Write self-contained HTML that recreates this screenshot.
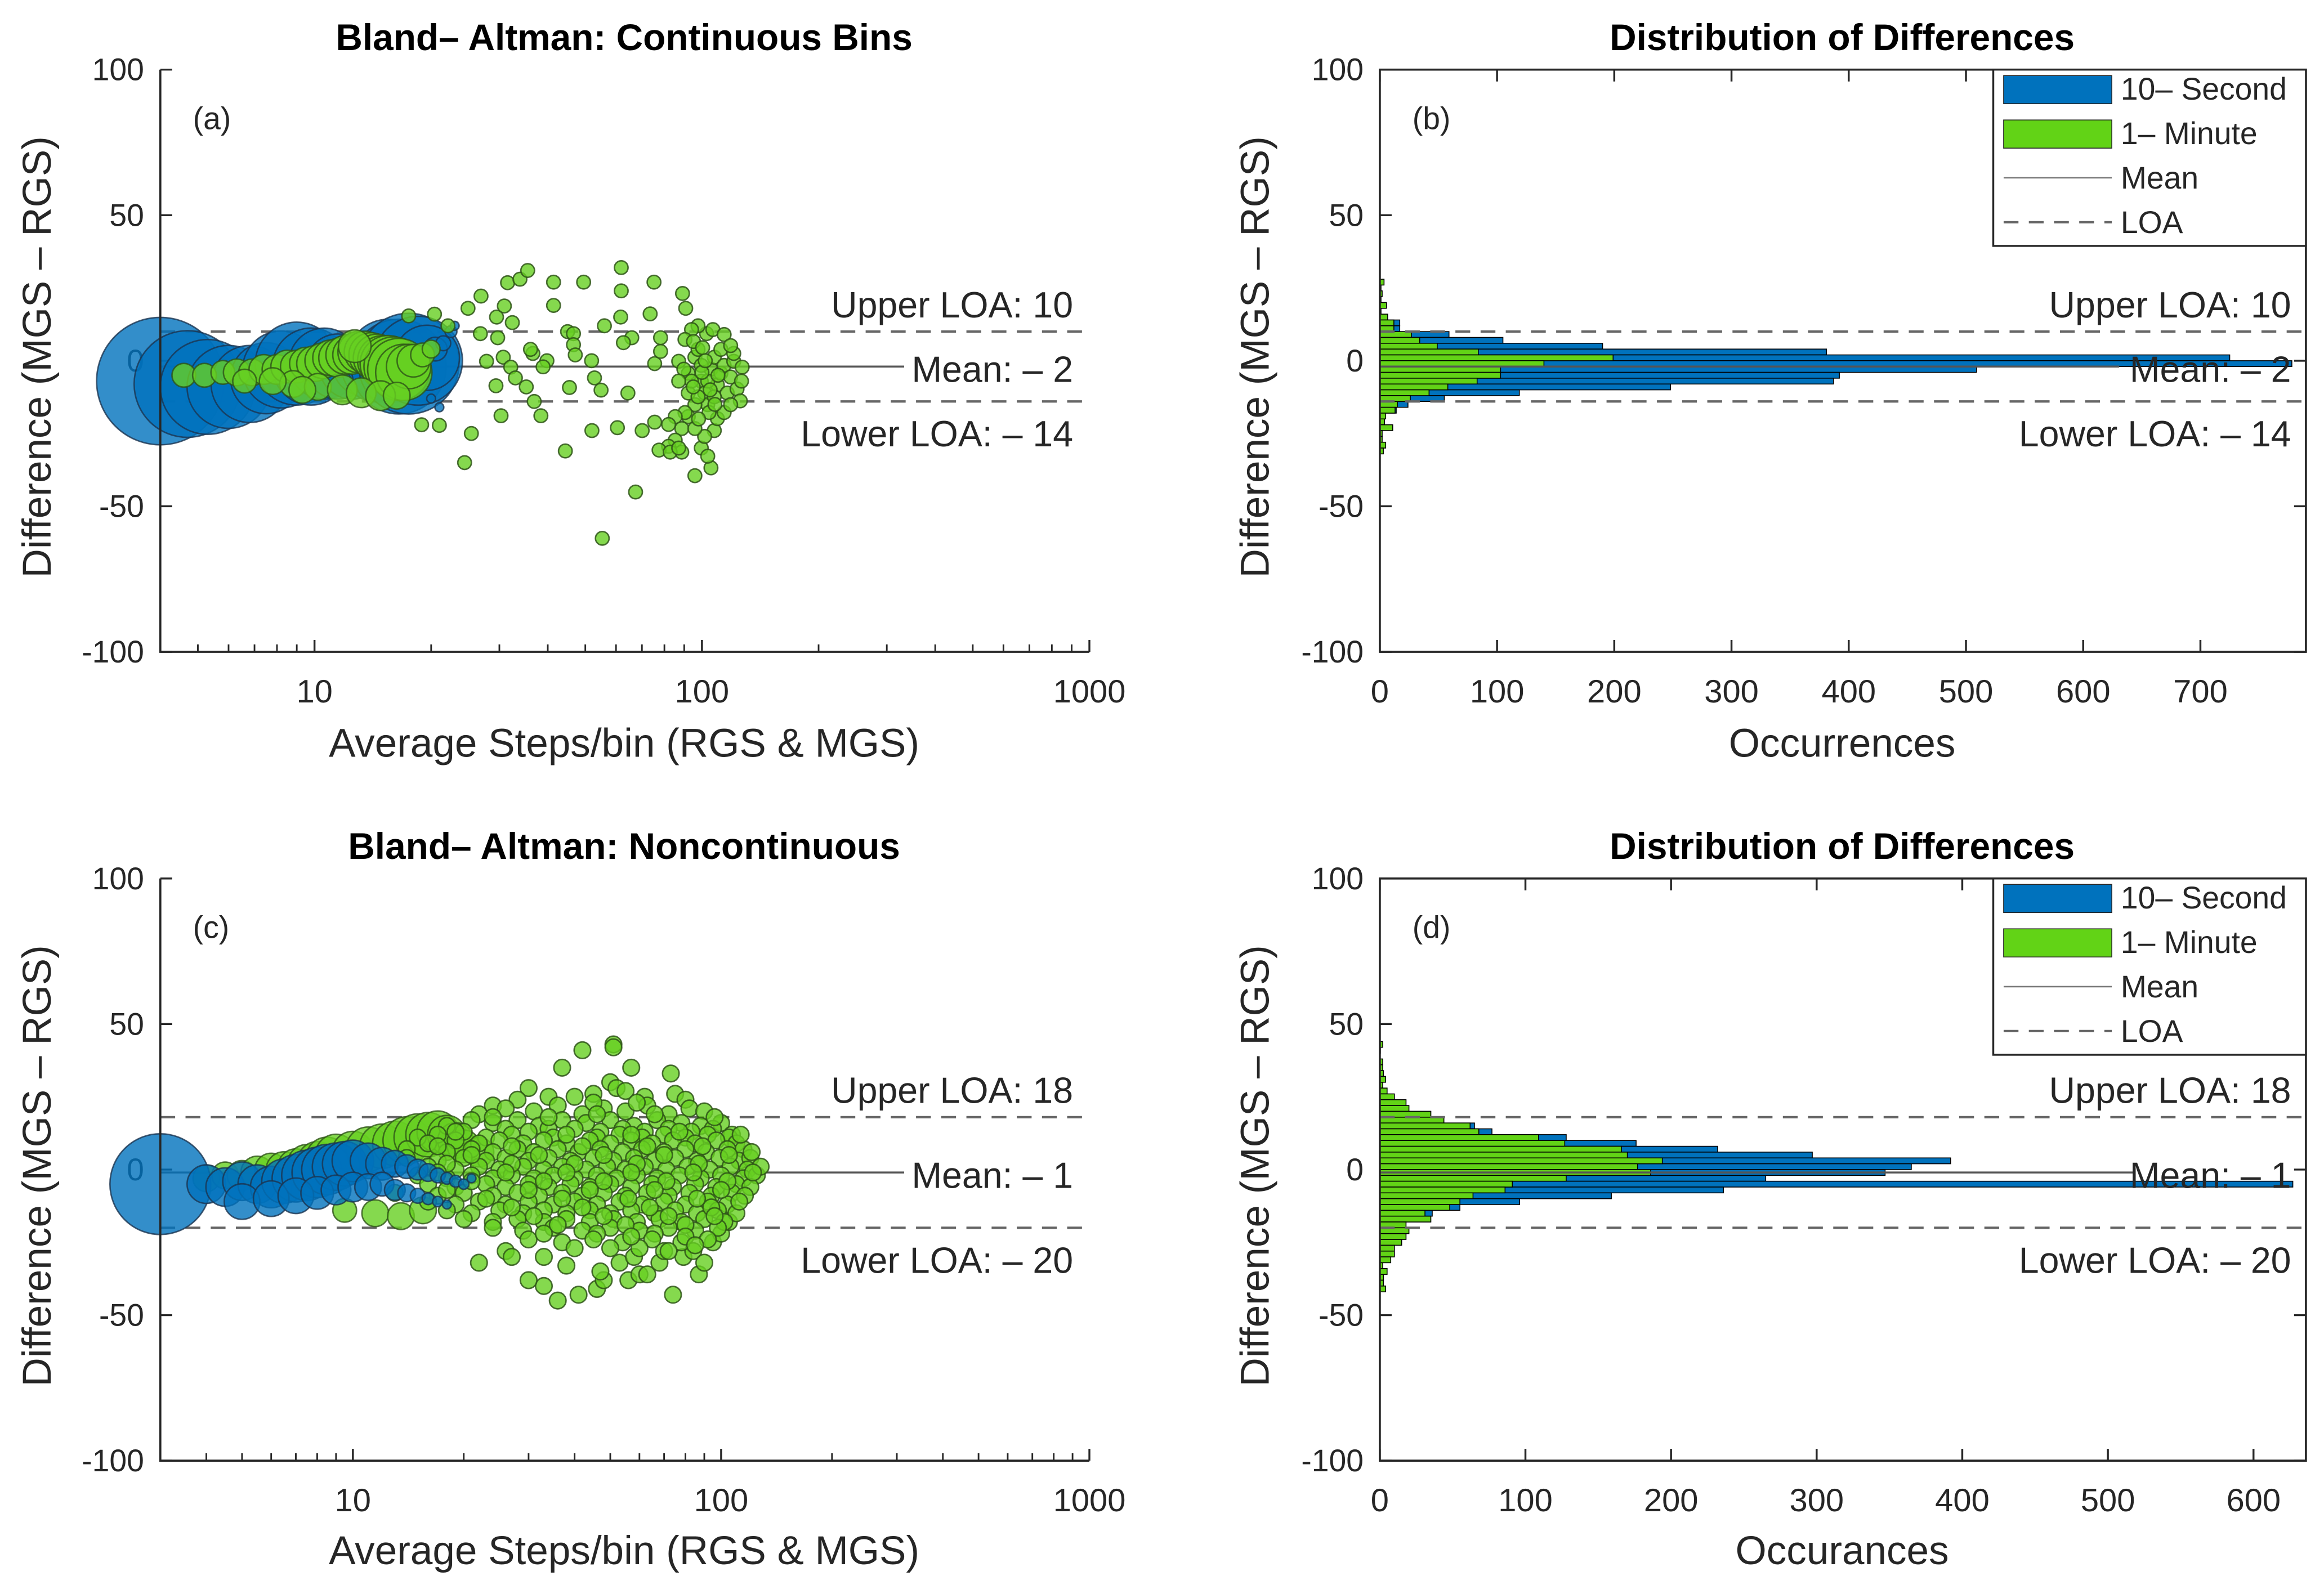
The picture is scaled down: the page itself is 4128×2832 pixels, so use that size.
<!DOCTYPE html>
<html><head><meta charset="utf-8">
<style>html,body{margin:0;padding:0;background:#fff;}svg{display:block}</style>
</head><body>
<svg id="fig" width="4128" height="2832" viewBox="0 0 1568 1076" xmlns="http://www.w3.org/2000/svg" font-family="'Liberation Sans', Arial, sans-serif" fill="#262626">
<rect x="0" y="0" width="1568" height="1076" fill="#fff"/>
<text x="421" y="25" font-size="25" font-weight="bold" text-anchor="middle" dominant-baseline="central" fill="#000">Bland– Altman: Continuous Bins</text>
<text x="1243" y="25" font-size="25" font-weight="bold" text-anchor="middle" dominant-baseline="central" fill="#000">Distribution of Differences</text>
<text x="421" y="571" font-size="25" font-weight="bold" text-anchor="middle" dominant-baseline="central" fill="#000">Bland– Altman: Noncontinuous</text>
<text x="1243" y="571" font-size="25" font-weight="bold" text-anchor="middle" dominant-baseline="central" fill="#000">Distribution of Differences</text>
<text x="421" y="502" font-size="27" text-anchor="middle" dominant-baseline="central">Average Steps/bin (RGS &amp; MGS)</text>
<text x="1243" y="502" font-size="27" text-anchor="middle" dominant-baseline="central">Occurrences</text>
<text x="421" y="1047" font-size="27" text-anchor="middle" dominant-baseline="central">Average Steps/bin (RGS &amp; MGS)</text>
<text x="1243" y="1047" font-size="27" text-anchor="middle" dominant-baseline="central">Occurances</text>
<text transform="translate(25,241) rotate(-90)" font-size="27" text-anchor="middle" dominant-baseline="central">Difference (MGS – RGS)</text>
<text transform="translate(847,241) rotate(-90)" font-size="27" text-anchor="middle" dominant-baseline="central">Difference (MGS – RGS)</text>
<text transform="translate(25,787) rotate(-90)" font-size="27" text-anchor="middle" dominant-baseline="central">Difference (MGS – RGS)</text>
<text transform="translate(847,787) rotate(-90)" font-size="27" text-anchor="middle" dominant-baseline="central">Difference (MGS – RGS)</text>
<g id="ga"></g>
<g id="gb"></g>
<g id="gc"></g>
<g id="gd"></g>
</svg>
<script>
// ---------- data ----------
const yTicks = [100, 50, 0, -50, -100];
const yTickLabels = ['100', '50', '0', '-50', '-100'];
const logMajors = [10, 100, 1000];
const logMajorLabels = ['10', '100', '1000'];
const histTicksB = [0, 100, 200, 300, 400, 500, 600, 700];
const histTicksD = [0, 100, 200, 300, 400, 500, 600];
const meanVals = [-2, -1];
const upperVals = [10, 18];
const lowerVals = [-14, -20];
const panelLetters = ['(a)', '(b)', '(c)', '(d)'];
const legendLabels = ['10– Second', '1– Minute', 'Mean', 'LOA'];

// panel (a) blue bubbles (10-second)
const aBlueX = [4, 4.7, 5.3, 6, 6.8, 7.5, 8.2, 9, 9.8, 10.6, 11.5, 12.5, 13.5, 14.5, 15.5, 16.5, 17.5, 18.5, 19.5, 20.5, 21.5, 22.5, 20, 21, 23];
const aBlueY = [-7, -8, -9, -9, -8, -6, -3, -1, -2, -1, -2, -2, -1, -2, 0, -2, -1, 0, 1, 4, 6, 10, -13, -16, 12];
const aBlueS = [43, 36, 32, 28, 26, 24, 26, 28, 26, 24, 22, 22, 22, 24, 28, 32, 34, 30, 22, 8, 5, 4, 3, 3, 3];
// panel (a) green bubbles (1-minute)
const aGreenX = [4.6, 5.2, 5.8, 6.3, 6.9, 7.4, 8, 8.5, 9, 9.5, 10, 10.5, 11, 11.5, 12, 12.5, 13, 13.5, 14, 14.5, 15, 15.5, 16, 16.5, 17, 17.5, 18, 19, 20, 8.8, 10.2, 11.8, 13.2, 14.8, 16.3, 6.6, 7.8, 9.3, 12.7];
const aGreenY = [-5, -5, -4, -4, -4, -3, -3, -2, -2, -1, -1, 0, 1, 1, 2, 2, 3, 3, 2, 1, 0, -1, -2, -3, -4, -2, 0, 2, 4, -8, -9, -10, -11, -12, -12, -7, -7, -10, 5];
const aGreenS = [8, 8, 8, 9, 9, 10, 10, 11, 11, 11, 12, 12, 12, 13, 13, 13, 14, 14, 15, 16, 17, 19, 20, 21, 19, 15, 11, 8, 6, 9, 9, 10, 10, 10, 9, 8, 9, 9, 11];
// panel (a) scattered green points
const aDots = [[24.9,18],[26.9,22.2],[29.5,15],[30.9,18.8],[31.5,26.8],[33.9,28],[35.5,31],[41.4,27],[41.4,19],[49.5,27],[61.9,32],[61.9,24],[75.2,27],[89.1,23.1],[90.8,18],[73.5,16.1],[61.7,15],[56,12],[45,10],[46.6,9.3],[46.6,5.5],[47.1,2],[51.9,0],[36.6,2.5],[39.8,0],[38.9,-2.1],[36.1,3.9],[32.4,13.1],[29.7,7.9],[27.8,-0.2],[30.7,1.2],[32.1,-2.2],[33,-5.9],[29.4,-8.6],[35.2,-9],[36.9,-14],[30.3,-18.9],[38.4,-18.9],[45.5,-9.2],[52.8,-5.9],[54.9,-10.1],[64.4,-11.1],[75.5,-1],[78.2,3.2],[78.2,7.9],[65.9,7.9],[62.7,6.2],[52,-24],[60.5,-23],[70.1,-24],[75.5,-21.1],[44.4,-31],[25.4,-25],[24.4,-35],[67.4,-45.1],[55.3,-61],[18.9,-22],[21,-22.2],[26.8,9.3],[22.1,12],[20.4,16],[17.5,15.4],
[87.1,-0.2],[92.2,-4.3],[95.9,1.2],[97.7,3.9],[99.6,-7],[101.6,-11.1],[103.5,-15.1],[105.5,-2.9],[107.6,1.2],[109.6,-8.3],[111.9,-4.3],[114.1,-1.6],[116.2,-11.1],[118.6,-5.6],[120.8,-0.2],[123.2,-9.7],[125.6,-13.8],[127,-2.2],[126.5,-7],[95.9,-15.1],[92.2,-19.2],[88.7,-23.3],[85.3,-27.3],[82,-29.4],[77.5,-30.7],[88.7,-31.4],[95.9,-39.5],[99.6,-30],[105.5,-36.8],[103.5,-32.8],[107.6,-24],[109.6,-19.9],[102.8,9.3],[106.7,10.7],[114.1,9],[97.7,12],[94,10.7],[90.4,7.3],[95.1,6.6],[100.4,4.5],[111.9,3.9],[101.6,-26],[95.9,-23.3],[90.4,-17.8],[85.3,-19.2],[82,-21.9],[82.8,-31.4],[87.1,-30],[92.2,-11.1],[97.7,-12.4],[104.3,-17.8],[114.1,-17.8],[118.6,-15.1],[120.8,2.5],[118.6,5.2],[99.6,-1.6],[103.5,-7],[107.6,-12.4],[94,-7],[89.8,-2.9],[87.1,-7],[100,-4],[105,-10],[98,-20],[110,-5],[102,0],[95,-9],[108,-15]];

// panel (c) bubbles
const cGreenX = [4, 4.5, 5, 5.5, 6, 6.5, 7, 7.5, 8, 8.5, 9, 10, 11, 12, 13, 14, 15, 16, 17, 18, 19, 20, 22, 9.5, 11.5, 13.5, 15.5];
const cGreenY = [-3, -2, -2, -1, 0, 0, 1, 2, 3, 4, 5, 6, 7, 8, 9, 10, 11, 12, 13, 12, 10, 8, 6, -14, -15, -16, -14];
const cGreenS = [9, 9, 10, 11, 11, 12, 12, 13, 13, 14, 14, 14, 15, 15, 15, 16, 16, 15, 14, 13, 12, 11, 10, 8, 9, 9, 9];
const cBlueX = [3, 4, 4.5, 5, 5.5, 6, 6.5, 7, 7.5, 8, 8.5, 9, 9.5, 10, 11, 12, 13, 14, 15, 16, 17, 18, 19, 20, 21, 5, 6, 7, 8, 9, 10, 11, 12, 13, 14, 15, 16, 17, 18];
const cBlueY = [-5, -5, -6, -4, -5, -6, -4, -3, -2, -1, 0, 1, 2, 3, 3, 2, 2, 1, 0, -1, -2, -3, -4, -5, -3, -11, -10, -9, -8, -7, -6, -6, -5, -7, -8, -9, -10, -11, -12];
const cBlueS = [34, 13, 13, 13, 13, 14, 15, 16, 17, 17, 17, 16, 15, 14, 12, 11, 9, 8, 7, 6, 5, 4, 4, 3.5, 3, 12, 12, 12, 11, 10, 10, 9, 8, 7, 6, 5, 4, 3.5, 3];
const cDots = [[51,43],[51,42],[42,41],[37,35],[57,35],[73,33],[50,30],[52,28],[55,27],[30,28],[34,25],[40,25],[45,26],[62,25],[75,26],[80,24],[28,24],[24,22],
[36,-45],[41,-43],[33,-40],[30,-38],[46,-41],[48,-38],[56,-38],[60,-36],[63,-36],[74,-43],[87,-36],[22,-32],[26,-28],[27,-30],[33,-30],[38,-33],[53,-32],[58,-30],[68,-32],[70,-28],[79,-30],[84,-28],[90,-32],[95,-25],[100,-22],[105,-18],[47,-35],
[22,19],[26,21],[31,20],[36,22],[42,19],[48,21],[55,20],[63,22],[72,19],[82,21],[90,20],[59,23],[45,23],
[18,15],[21,17],[24,16],[28,17],[32,15],[37,17],[43,16],[50,17],[58,15],[67,17],[78,16],[88,15],[100,16],
[20,13],[26,14],[30,13],[34,14],[40,14],[47,13],[54,14],[62,13],[72,14],[83,13],[95,14],[107,12],
[15,11],[17,12],[23,11],[27,12],[35,11],[46,11],[53,12],[61,11],[70,12],[80,11],[92,12],[105,11],
[16,9],[19,10],[22,9],[25,10],[29,9],[33,10],[38,9],[44,10],[50,9],[57,10],[65,9],[74,10],[85,9],[97,10],[110,9],
[14,7],[18,6],[21,7],[24,6],[28,7],[31,6],[36,7],[41,6],[47,7],[54,6],[61,7],[70,6],[80,7],[91,6],[104,7],[115,7],
[14,4],[17,3],[20,4],[23,3],[26,4],[30,3],[34,4],[39,3],[45,4],[51,3],[58,4],[66,3],[75,4],[86,3],[99,4],[112,3],[120,4],
[16,1],[19,0],[22,1],[25,0],[29,1],[33,0],[37,1],[43,0],[49,1],[55,0],[62,1],[71,0],[81,1],[93,0],[106,1],[118,0],
[15,-2],[18,-3],[21,-2],[24,-3],[27,-2],[31,-3],[35,-2],[40,-3],[46,-2],[52,-3],[59,-2],[67,-3],[77,-2],[88,-3],[100,-2],[115,-3],[125,-2],
[16,-5],[19,-6],[23,-5],[26,-6],[30,-5],[34,-6],[39,-5],[44,-6],[50,-5],[57,-6],[65,-5],[74,-6],[85,-5],[97,-6],[110,-5],[120,-6],
[13,-8],[17,-9],[20,-8],[24,-9],[28,-8],[32,-9],[37,-8],[42,-9],[48,-8],[55,-9],[63,-8],[72,-9],[82,-8],[94,-9],[107,-8],[116,-9],
[16,-11],[19,-12],[22,-11],[26,-12],[30,-11],[35,-12],[40,-11],[46,-12],[53,-11],[61,-12],[70,-11],[80,-12],[92,-11],[104,-12],
[18,-14],[21,-15],[25,-14],[29,-15],[33,-14],[38,-15],[44,-14],[50,-15],[57,-14],[66,-15],[75,-14],[86,-15],[98,-14],[110,-15],
[20,-17],[24,-18],[28,-17],[33,-18],[38,-17],[44,-18],[51,-17],[59,-18],[68,-17],[78,-18],[90,-17],[102,-18],
[24,-20],[29,-21],[35,-20],[42,-21],[50,-20],[60,-21],[72,-20],[85,-21],[98,-20],[46,-22],[66,-22],
[30,-24],[37,-25],[45,-24],[54,-25],[65,-24],[78,-25],[92,-24],[40,-27],[60,-27],[72,-28],
[24,18],[34,18],[46,19],[66,19],[96,18],[19,13],[38,12],[57,12],[77,13],[113,12],[17,8],[27,8],[42,8],[63,8],[89,8],[121,6],[21,5],[32,5],[48,5],[70,5],[105,5],
[18,2],[27,2],[40,2],[59,2],[87,2],[128,1],[17,-1],[26,-1],[38,-1],[57,-1],[84,-1],[122,-1],[21,-4],[33,-4],[48,-4],[71,-4],[104,-4],[18,-7],[30,-7],[44,-7],[66,-7],[100,-7],
[23,-10],[37,-10],[56,-10],[86,-10],[112,-11],[27,-13],[42,-13],[64,-13],[94,-13],[31,-16],[48,-16],[72,-16],[96,-16],[36,-19],[55,-19],[80,-19],[33,-22],[57,-23],[80,-23],[50,-27],[85,-26]];

// histogram (b): bin upper edges and counts (bin width 2)
const binTopB = [28,26,24,22,20,18,16,14,12,10,8,6,4,2,0,-2,-4,-6,-8,-10,-12,-14,-16,-18,-20,-22,-24,-26,-28,-30];
const blueCountB = [0,0,0,0,0,0,0,17,17,59,105,190,381,725,778,509,392,387,248,119,55,24,14,0,0,0,0,0,0,0];
const greenCountB = [3.6,1,2,1,5.7,1,6.7,12,12,27,34,49,84,199,140,103,103,83,58,42,26,15,13,5,4,11,2,2,5,3];
// histogram (d)
const binTopD = [44,42,40,38,36,34,32,30,28,26,24,22,20,18,16,14,12,10,8,6,4,2,0,-2,-4,-6,-8,-10,-12,-14,-16,-18,-20,-22,-24,-26,-28,-30,-32,-34,-36,-38,-40];
const blueCountD = [0,0,0,0,0,0,0,0,0,0,0,0,35,44,65,77,128,176,232,297,392,365,347,265,627,236,159,96,55,36,35,0,0,0,0,0,0,0,0,0,0,0,0];
const greenCountD = [2,0.4,0,2,2,2.5,4,2,5,10,18,20,35,44,62,68,109,127,166,170,194,177,186,128,91,86,64,55,48,31,35,18,20,18,15,10,10,7.5,2,5,2.5,2.5,4];

// ---------- drawing ----------
const NS = 'http://www.w3.org/2000/svg';
const INK = '#262626';
function mk(parent, tag, attrs, txt) {
  const e = document.createElementNS(NS, tag);
  for (const k in attrs) e.setAttribute(k, attrs[k]);
  if (txt !== undefined) e.textContent = txt;
  parent.appendChild(e);
  return e;
}
const PA = {g: 'ga', l: 108, r: 735, t: 47, b: 440, lo: 4, hi: 1000};
const PC = {g: 'gc', l: 108, r: 735, t: 593, b: 986, lo: 3, hi: 1000};
const PB = {g: 'gb', l: 931, r: 1556, t: 47, b: 440, max: 790};
const PD = {g: 'gd', l: 931, r: 1556, t: 593, b: 986, max: 636};

function yS(P, v) { return P.t + (100 - v) / 200 * (P.b - P.t); }
function xLog(P, v) { return P.l + (Math.log10(v) - Math.log10(P.lo)) / (Math.log10(P.hi) - Math.log10(P.lo)) * (P.r - P.l); }
function xLin(P, v) { return P.l + v / P.max * (P.r - P.l); }
function fmt(v) { return v < 0 ? '– ' + Math.abs(v) : String(v); }

function yAxis(P, g, box) {
  yTicks.forEach((v, i) => {
    const y = yS(P, v);
    const tk = mk(g, 'line', {x1: P.l, x2: P.l + 8, y1: y, y2: y, stroke: INK, 'stroke-width': 1.3});
    
    
    if (box) {
      const tr = mk(g, 'line', {x1: P.r, x2: P.r - 8, y1: y, y2: y, stroke: INK, 'stroke-width': 1.3});
      
      
    }
    const lb = mk(g, 'text', {x: P.l - 11, y: y, 'font-size': 21, 'text-anchor': 'end', 'dominant-baseline': 'central'}, yTickLabels[i]);
    
    
  });
}
function frame(P, g, box) {
  const ax = mk(g, 'path', {d: box ? `M${P.l},${P.t}H${P.r}V${P.b}H${P.l}Z` : `M${P.l},${P.t}V${P.b}H${P.r}`, fill: 'none', stroke: INK, 'stroke-width': 1.4});
  
  
}
function logXAxis(P, g) {
  logMajors.forEach((v, i) => {
    const x = xLog(P, v);
    const tk = mk(g, 'line', {x1: x, x2: x, y1: P.b, y2: P.b - 8, stroke: INK, 'stroke-width': 1.3});
    
    
    const lb = mk(g, 'text', {x: x, y: P.b + 27, 'font-size': 22, 'text-anchor': 'middle', 'dominant-baseline': 'central'}, logMajorLabels[i]);
    
    
  });
  [1, 10, 100].forEach(d => {
    for (let m = 2; m <= 9; m++) {
      const v = m * d;
      if (v < P.lo || v > P.hi) continue;
      const x = xLog(P, v);
      const tk = mk(g, 'line', {x1: x, x2: x, y1: P.b, y2: P.b - 5, stroke: INK, 'stroke-width': 1.1});
      
      
    }
  });
}
function linXAxis(P, g, ticks) {
  ticks.forEach(v => {
    const x = xLin(P, v);
    const tk = mk(g, 'line', {x1: x, x2: x, y1: P.b, y2: P.b - 8, stroke: INK, 'stroke-width': 1.3});
    
    
    const tt = mk(g, 'line', {x1: x, x2: x, y1: P.t, y2: P.t + 8, stroke: INK, 'stroke-width': 1.3});
    
    
    const lb = mk(g, 'text', {x: x, y: P.b + 27, 'font-size': 22, 'text-anchor': 'middle', 'dominant-baseline': 'central'}, String(v));
    
    
  });
}
function bubbles(P, g, xs, ys, ss, fill, stroke, name) {
  xs.forEach((v, i) => {
    const c = mk(g, 'circle', {cx: xLog(P, v), cy: yS(P, ys[i]), r: ss[i], fill: fill, 'fill-opacity': 0.8, stroke: stroke, 'stroke-opacity': 0.8, 'stroke-width': 1});
    
    
  });
}
function dots(P, g, pts, r) {
  pts.forEach(p => {
    const c = mk(g, 'circle', {cx: xLog(P, p[0]), cy: yS(P, p[1]), r: r, fill: '#66d022', 'fill-opacity': 0.8, stroke: '#2e5418', 'stroke-opacity': 0.85, 'stroke-width': 1});
    
    
  });
}
function statLines(P, g, k, meanEnd, labelX) {
  const yu = yS(P, upperVals[k]), yl = yS(P, lowerVals[k]), ym = yS(P, meanVals[k]);
  const u = mk(g, 'line', {x1: P.l, x2: P.r, y1: yu, y2: yu, stroke: '#666', 'stroke-width': 1.6, 'stroke-dasharray': '10,7'});
  
  
  const lo = mk(g, 'line', {x1: P.l, x2: P.r, y1: yl, y2: yl, stroke: '#666', 'stroke-width': 1.6, 'stroke-dasharray': '10,7'});
  
  
  const m = mk(g, 'line', {x1: P.l, x2: meanEnd, y1: ym, y2: ym, stroke: '#555', 'stroke-width': 1.3});
  
  
  const t1 = mk(g, 'text', {x: labelX, y: yu - 18, 'font-size': 24.5, 'text-anchor': 'end', 'dominant-baseline': 'central'}, 'Upper LOA: ' + fmt(upperVals[k]));
  
  
  const t2 = mk(g, 'text', {x: labelX, y: ym + 2, 'font-size': 24.5, 'text-anchor': 'end', 'dominant-baseline': 'central'}, 'Mean: ' + fmt(meanVals[k]));
  
  
  const t3 = mk(g, 'text', {x: labelX, y: yl + 22, 'font-size': 24.5, 'text-anchor': 'end', 'dominant-baseline': 'central'}, 'Lower LOA: ' + fmt(lowerVals[k]));
  
  
}
function letter(P, g, s) {
  const t = mk(g, 'text', {x: P.l + 22, y: P.t + 33, 'font-size': 21, 'dominant-baseline': 'central'}, s);
  
  
}
function hist(P, g, tops, counts, fill, name) {
  tops.forEach((top, i) => {
    if (!counts[i]) return;
    const y1 = yS(P, top), y2 = yS(P, top - 2);
    const rc = mk(g, 'rect', {x: P.l, y: y1, width: xLin(P, counts[i]) - P.l, height: y2 - y1, fill: fill, stroke: '#000', 'stroke-width': 0.6});
    
    
  });
}
function legend(P, g) {
  const L = P.r - 211, T = P.t;
  const box = mk(g, 'rect', {x: L, y: T, width: 211, height: 119, fill: '#fff', stroke: INK, 'stroke-width': 1.3});
  
  
  const p1 = mk(g, 'rect', {x: L + 7, y: T + 4, width: 73, height: 19, fill: '#0072BD', stroke: INK, 'stroke-width': 0.6});
  
  
  const p2 = mk(g, 'rect', {x: L + 7, y: T + 34, width: 73, height: 19, fill: '#62D316', stroke: INK, 'stroke-width': 0.6});
  
  
  const p3 = mk(g, 'line', {x1: L + 7, x2: L + 80, y1: T + 73, y2: T + 73, stroke: '#777', 'stroke-width': 1});
  
  
  const p4 = mk(g, 'line', {x1: L + 7, x2: L + 80, y1: T + 103, y2: T + 103, stroke: '#666', 'stroke-width': 1.6, 'stroke-dasharray': '10,7'});
  
  
  legendLabels.forEach((s, i) => {
    const t = mk(g, 'text', {x: L + 86, y: T + 13 + 30 * i, 'font-size': 21, 'dominant-baseline': 'central'}, s);
    
    
  });
}

// panel a
(function () {
  const g = document.getElementById(PA.g);
  yAxis(PA, g, false); logXAxis(PA, g); letter(PA, g, panelLetters[0]);
  statLines(PA, g, 0, 610, 724);
  bubbles(PA, g, aBlueX, aBlueY, aBlueS, '#0072BD', '#1b3550', 'bubble-10-second');
  bubbles(PA, g, aGreenX, aGreenY, aGreenS, '#66d022', '#2e5418', 'bubble-1-minute');
  dots(PA, g, aDots, 4.6);
  frame(PA, g, false);
})();
// panel c
(function () {
  const g = document.getElementById(PC.g);
  yAxis(PC, g, false); logXAxis(PC, g); letter(PC, g, panelLetters[2]);
  statLines(PC, g, 1, 610, 724);
  bubbles(PC, g, cGreenX, cGreenY, cGreenS, '#66d022', '#2e5418', 'bubble-1-minute');
  dots(PC, g, cDots, 5.6);
  bubbles(PC, g, cBlueX, cBlueY, cBlueS, '#0072BD', '#1b3550', 'bubble-10-second');
  frame(PC, g, false);
})();
// panel b
(function () {
  const g = document.getElementById(PB.g);
  yAxis(PB, g, true); linXAxis(PB, g, histTicksB); letter(PB, g, panelLetters[1]);
  hist(PB, g, binTopB, blueCountB, '#0072BD', 'bar-10-second');
  hist(PB, g, binTopB, greenCountB, '#62D316', 'bar-1-minute');
  statLines(PB, g, 0, 1430, 1546);
  frame(PB, g, true);
  legend(PB, g);
})();
// panel d
(function () {
  const g = document.getElementById(PD.g);
  yAxis(PD, g, true); linXAxis(PD, g, histTicksD); letter(PD, g, panelLetters[3]);
  hist(PD, g, binTopD, blueCountD, '#0072BD', 'bar-10-second');
  hist(PD, g, binTopD, greenCountD, '#62D316', 'bar-1-minute');
  statLines(PD, g, 1, 1440, 1546);
  frame(PD, g, true);
  legend(PD, g);
})();
</script>
</body></html>
